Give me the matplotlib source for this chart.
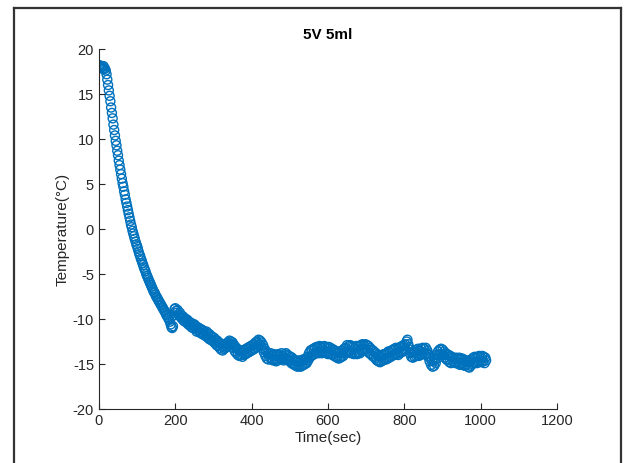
import numpy as np
import matplotlib
matplotlib.use("Agg")
import matplotlib.pyplot as plt
from matplotlib.lines import Line2D

plt.rcParams['font.family'] = ['Liberation Sans', 'DejaVu Sans']
plt.rcParams['axes.unicode_minus'] = False

# Temperature readings, one every 2 s (each row covers 50 s)
temp = [
    18.0, 18.2, 17.9, 18.1, 18.0, 17.8, 18.1, 17.9, 17.8, 17.6, 17.2, 16.6, 16.0, 15.4, 14.8, 14.2, 13.5, 12.9, 12.3, 11.6, 11.0, 10.4, 9.8, 9.3, 8.7,
    8.2, 7.6, 7.1, 6.6, 6.1, 5.6, 5.1, 4.7, 4.2, 3.8, 3.3, 2.9, 2.5, 2.1, 1.7, 1.3, 0.9, 0.5, 0.2, -0.2, -0.5, -0.8, -1.1, -1.4, -1.7,
    -1.9, -2.2, -2.5, -2.8, -3.0, -3.3, -3.5, -3.8, -4.0, -4.3, -4.5, -4.7, -5.0, -5.2, -5.4, -5.6, -5.8, -6.0, -6.2, -6.4, -6.6, -6.8, -7.0, -7.1, -7.3,
    -7.5, -7.6, -7.8, -7.9, -8.1, -8.2, -8.4, -8.5, -8.7, -8.8, -9.0, -9.1, -9.3, -9.5, -9.6, -9.8, -9.9, -10.1, -10.3, -10.6, -10.9, -11.0, -10.8, -9.6, -8.9,
    -8.8, -9.1, -9.3, -9.0, -9.5, -9.6, -9.3, -9.8, -9.6, -10.0, -9.7, -10.2, -9.9, -10.3, -10.0, -10.4, -10.1, -10.6, -10.3, -10.7, -10.4, -10.9, -10.5, -11.0, -10.6,
    -10.6, -11.1, -10.8, -11.4, -10.9, -11.3, -11.0, -11.5, -11.1, -11.6, -11.2, -11.7, -11.3, -11.8, -11.5, -11.9, -11.4, -12.0, -11.6, -12.2, -11.7, -12.3, -11.9, -12.4, -12.0,
    -12.5, -12.1, -12.7, -12.3, -12.9, -12.4, -13.0, -12.6, -13.2, -12.7, -13.4, -12.8, -13.5, -13.0, -13.3, -12.8, -13.2, -12.7, -13.1, -12.6, -13.0, -12.4, -12.9, -12.5, -12.8,
    -12.6, -13.2, -12.9, -13.6, -13.1, -13.8, -13.3, -14.0, -13.4, -14.1, -13.5, -14.0, -13.6, -14.2, -13.5, -14.0, -13.4, -13.9, -13.3, -13.8, -13.2, -13.7, -13.1, -13.6, -13.0,
    -13.5, -12.9, -13.4, -12.8, -13.3, -12.6, -13.1, -12.5, -12.9, -12.3, -12.8, -12.4, -13.0, -12.6, -13.3, -12.9, -13.7, -13.3, -14.1, -13.6, -14.4, -13.8, -14.5, -13.9, -14.3,
    -13.8, -14.5, -14.0, -14.6, -13.9, -14.5, -14.1, -14.7, -14.0, -14.6, -13.9, -14.5, -14.0, -14.4, -13.8, -14.5, -14.1, -14.6, -13.9, -14.4, -13.8, -14.5, -14.0, -14.6, -14.1,
    -14.7, -14.2, -14.9, -14.3, -15.0, -14.5, -15.1, -14.6, -15.2, -14.7, -15.3, -14.6, -15.2, -14.7, -15.3, -14.6, -15.2, -14.5, -15.1, -14.6, -15.0, -14.4, -14.9, -14.2, -14.6,
    -13.8, -14.3, -13.5, -14.1, -13.4, -14.0, -13.3, -13.9, -13.2, -13.8, -13.1, -13.7, -13.2, -13.8, -13.0, -13.7, -13.1, -13.8, -13.2, -13.6, -13.0, -13.7, -13.1, -13.8, -13.2,
    -13.9, -13.1, -13.8, -13.2, -13.9, -13.3, -14.0, -13.4, -14.1, -13.5, -14.2, -13.6, -14.3, -13.7, -14.4, -13.6, -14.3, -13.8, -14.2, -13.5, -14.1, -13.3, -13.8, -13.2, -13.7,
    -12.9, -13.6, -13.0, -13.7, -12.9, -13.8, -13.0, -13.8, -13.1, -13.9, -13.2, -13.8, -13.0, -13.9, -13.1, -13.7, -13.0, -13.8, -12.9, -13.6, -12.8, -13.5, -12.9, -13.4, -12.8,
    -13.4, -12.9, -13.6, -13.0, -13.8, -13.2, -13.9, -13.4, -14.1, -13.5, -14.2, -13.7, -14.4, -13.8, -14.6, -14.0, -14.7, -14.1, -14.8, -14.2, -14.7, -14.0, -14.6, -13.9, -14.5,
    -13.9, -14.5, -13.8, -14.4, -13.6, -14.3, -13.7, -14.2, -13.5, -14.1, -13.4, -14.0, -13.3, -13.9, -13.2, -13.9, -13.3, -14.0, -13.2, -13.8, -13.1, -13.7, -13.0, -13.6, -12.9,
    -13.5, -12.8, -13.4, -12.5, -12.3, -12.8, -13.1, -13.8, -13.4, -14.2, -13.7, -14.3, -13.6, -14.2, -13.5, -14.1, -13.4, -14.0, -13.3, -14.1, -13.5, -14.0, -13.3, -13.9, -13.2,
    -13.8, -13.3, -13.9, -13.2, -13.8, -13.5, -14.2, -13.9, -14.7, -14.3, -15.1, -14.6, -15.3, -14.7, -15.2, -14.5, -14.9, -14.0, -14.4, -13.6, -14.0, -13.4, -13.9, -13.3, -14.0,
    -13.4, -14.0, -13.6, -14.3, -13.8, -14.5, -13.9, -14.6, -14.0, -14.8, -14.1, -14.9, -14.2, -14.7, -14.3, -14.8, -14.4, -14.9, -14.3, -14.8, -14.4, -15.0, -14.3, -15.1, -14.4,
    -15.0, -14.4, -15.1, -14.5, -15.2, -14.6, -15.1, -14.7, -15.3, -14.6, -15.4, -14.7, -15.2, -14.5, -15.0, -14.3, -14.9, -14.2, -14.8, -14.3, -14.9, -14.2, -14.8, -14.1, -14.7,
    -14.2, -14.8, -14.1, -14.7, -14.2, -14.9, -14.3, -14.6,
]
time_s = np.arange(len(temp)) * 2

x_ticks = [0, 200, 400, 600, 800, 1000, 1200]
y_ticks = [-20, -15, -10, -5, 0, 5, 10, 15, 20]

fig = plt.figure(figsize=(6.26, 4.63), dpi=100)
ax = fig.add_axes([0.158, 0.1166, 0.732, 0.7775])

ax.scatter(time_s, temp, s=42, facecolors='none', edgecolors='#0072BD',
           linewidths=1.0)

ax.set_xlim(0, 1200)
ax.set_ylim(-20, 20)
ax.set_xticks(x_ticks)
ax.set_yticks(y_ticks)

for side in ['top', 'right']:
    ax.spines[side].set_visible(False)
for side in ['left', 'bottom']:
    ax.spines[side].set_color('#262626')
    ax.spines[side].set_linewidth(0.8)
ax.tick_params(direction='in', length=4.5, width=0.8, color='#262626',
               labelcolor='#262626', labelsize=10.5)

ax.set_xlabel('Time(sec)', fontsize=11, color='#262626', labelpad=2)
ax.set_ylabel('Temperature(°C)', fontsize=11, color='#262626', labelpad=2)
ax.set_title('5V 5ml', fontsize=11, fontweight='bold', color='black', pad=7)

# screenshot frame around the figure
frame_kw = dict(transform=fig.transFigure, color='#333333', linewidth=1.6)
fig.add_artist(Line2D([13.5 / 626, 13.5 / 626], [0, 1 - 7.5 / 463], **frame_kw))
fig.add_artist(Line2D([13.5 / 626, 620.5 / 626], [1 - 7.5 / 463, 1 - 7.5 / 463], **frame_kw))
fig.add_artist(Line2D([620.5 / 626, 620.5 / 626], [0, 1 - 7.5 / 463], **frame_kw))

fig.savefig('out.png', dpi=100)
